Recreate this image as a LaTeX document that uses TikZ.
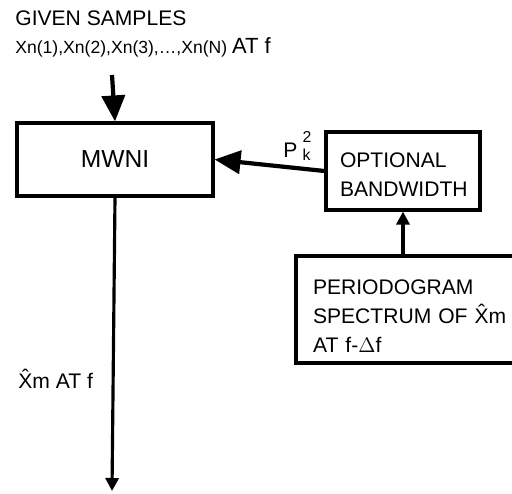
\documentclass[tikz,border=0pt]{standalone}
\usepackage{fontspec}
\setmainfont{Liberation Sans}
\usetikzlibrary{positioning,arrows.meta}

\begin{document}
\begin{tikzpicture}[x=0.02cm, y=-0.02cm,
  blk/.style={rectangle, draw=black, line width=1.8pt, inner ysep=0pt, fill=white},
  lbl/.style={inner sep=0pt, anchor=base west, font=\fontsize{12}{14}\selectfont},
  bigarr/.style={-{Triangle[length=0.52cm,width=0.46cm]}, line width=2.4pt},
  smallarr/.style={-{Triangle[length=0.26cm,width=0.26cm]}, line width=1.8pt}
]
\useasboundingbox (0,0) rectangle (512,494);
\clip (0,0) rectangle (512,494);

% inputs
\node[lbl] (given) at (15,25) {GIVEN SAMPLES};
\node[lbl, font=\fontsize{10}{12}\selectfont] (samp) at (15,53)
  {Xn(1),Xn(2),Xn(3),\ldots,Xn(N) {\fontsize{12.5}{14}\selectfont AT f}};
\coordinate (in) at (112,75);
\coordinate (out) at (112,491);

% blocks
\node[blk, minimum width=3.92cm, minimum height=1.46cm, font=\fontsize{14}{16}\selectfont]
  (mwni) at (115,159.5) {MWNI};
\node[blk, minimum width=3.08cm, minimum height=1.56cm, inner xsep=0.28cm,
      text width=2.52cm, align=left, font=\fontsize{12}{16.5}\selectfont]
  (opt) at (403,171) {\rule{0pt}{12pt}OPTIONAL\\BANDWIDTH};
\node[blk, minimum width=4.88cm, minimum height=2.14cm, inner xsep=0.34cm,
      text width=4.2cm, align=left, font=\fontsize{12}{16.5}\selectfont]
  (pgram) at (418,309.5) {\rule{0pt}{15.5pt}PERIODOGRAM\\SPECTRUM OF \^{X}m\\AT f-$\Delta$f};

% connectors
\draw[bigarr] (in) -- (mwni.north);
\draw[smallarr] (mwni.south) -- (out);
\draw[bigarr] (opt.west) -- (mwni.east);
\draw[smallarr] (opt.south |- pgram.north) -- (opt.south);

% labels
\node[lbl] (pk) at (283,157) {P\hspace{3pt}\rlap{\raisebox{8pt}{\fontsize{9}{9}\selectfont 2}}\raisebox{-2pt}{\fontsize{9}{9}\selectfont k}};
\node[lbl] (xm) at (18,388) {\^{X}m AT f};
\end{tikzpicture}
\end{document}
